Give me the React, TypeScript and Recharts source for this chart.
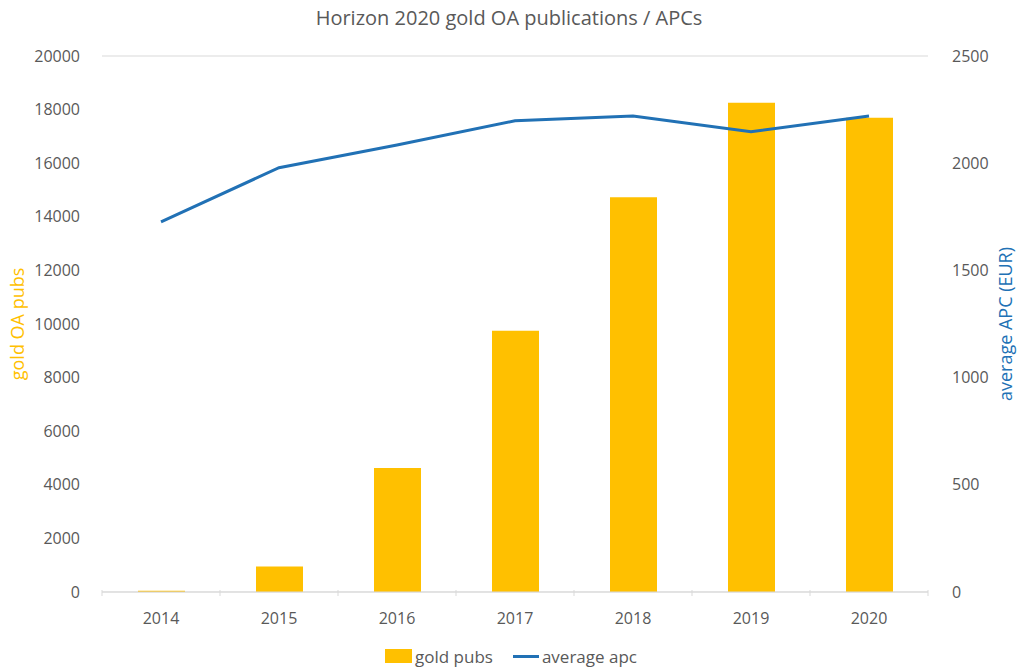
import React from "react";
import {
  ComposedChart,
  Bar,
  Line,
  XAxis,
  YAxis,
  CartesianGrid,
  Legend,
} from "recharts";

const years = ["2014", "2015", "2016", "2017", "2018", "2019", "2020"];
const goldPubs = [50, 950, 4630, 9750, 14730, 18260, 17700];
const averageApc = [1726, 1979, 2085, 2198, 2220, 2147, 2220];
const leftTicks = [0, 2000, 4000, 6000, 8000, 10000, 12000, 14000, 16000, 18000, 20000];
const rightTicks = [0, 500, 1000, 1500, 2000, 2500];

const data = years.map((year, i) => ({
  year,
  gold: goldPubs[i],
  apc: averageApc[i],
}));

const FONT = "'Open Sans', sans-serif";
const GREY = "#595959";
const GOLD = "#FFC000";
const BLUE = "#2171B5";

const PLOT_LEFT = 102;
const PLOT_RIGHT = 928;
const BAND = (PLOT_RIGHT - PLOT_LEFT) / years.length;

function YearTick(props: any) {
  const { x, y, payload, index } = props;
  const isLast = index === years.length - 1;
  return (
    <g>
      <line x1={x - BAND / 2} x2={x - BAND / 2} y1={y - 10} y2={y - 4} stroke="#d9d9d9" />
      {isLast && (
        <line x1={x + BAND / 2} x2={x + BAND / 2} y1={y - 10} y2={y - 4} stroke="#d9d9d9" />
      )}
      <text x={x} y={y + 24} textAnchor="middle" fill={GREY} fontSize={16} fontFamily={FONT}>
        {payload.value}
      </text>
    </g>
  );
}

function ChartLegend() {
  return (
    <div
      style={{
        display: "flex",
        justifyContent: "center",
        alignItems: "center",
        fontFamily: FONT,
        fontSize: 17,
        color: GREY,
        height: 22,
        paddingLeft: 4,
      }}
    >
      <span style={{ display: "inline-block", width: 27, height: 14, background: GOLD, marginRight: 3 }} />
      <span style={{ marginRight: 20 }}>gold pubs</span>
      <span style={{ display: "inline-block", width: 26, height: 3, background: BLUE, marginRight: 3 }} />
      <span>average apc</span>
    </div>
  );
}

export default function App() {
  return (
    <div style={{ position: "absolute", left: 0, top: 0, width: 1018, height: 671, background: "#fff" }}>
      <div
        style={{
          position: "absolute",
          top: 4,
          width: 1018,
          textAlign: "center",
          fontFamily: FONT,
          fontSize: 20,
          color: GREY,
        }}
      >
        Horizon 2020 gold OA publications / APCs
      </div>
      <ComposedChart
        width={1018}
        height={671}
        data={data}
        margin={{ top: 56, right: 0, left: 0, bottom: 4 }}
      >
        <CartesianGrid vertical={false} stroke="#d9d9d9" />
        <XAxis
          dataKey="year"
          axisLine={{ stroke: "#d9d9d9" }}
          tickLine={false}
          tick={<YearTick />}
          height={53}
          interval={0}
        />
        <YAxis
          yAxisId="left"
          domain={[0, 20000]}
          ticks={leftTicks}
          width={PLOT_LEFT}
          axisLine={false}
          tickLine={false}
          tickMargin={16}
          tick={{ fill: GREY, fontSize: 16, fontFamily: FONT }}
          label={{
            value: "gold OA pubs",
            angle: -90,
            position: "insideLeft",
            offset: 18,
            style: { fill: GOLD, fontSize: 18, fontFamily: FONT, textAnchor: "middle" },
          }}
        />
        <YAxis
          yAxisId="right"
          orientation="right"
          domain={[0, 2500]}
          ticks={rightTicks}
          width={1018 - PLOT_RIGHT}
          axisLine={false}
          tickLine={false}
          tickMargin={18}
          tick={{ fill: GREY, fontSize: 16, fontFamily: FONT, textAnchor: "start" }}
          label={{
            value: "average APC (EUR)",
            angle: -90,
            position: "insideRight",
            offset: 12,
            style: { fill: BLUE, fontSize: 18, fontFamily: FONT, textAnchor: "middle" },
          }}
        />
        <Legend verticalAlign="bottom" height={22} content={<ChartLegend />} />
        <Bar yAxisId="left" dataKey="gold" name="gold pubs" fill={GOLD} barSize={47} isAnimationActive={false} />
        <Line
          yAxisId="right"
          dataKey="apc"
          name="average apc"
          stroke={BLUE}
          strokeWidth={3}
          dot={false}
          type="linear"
          isAnimationActive={false}
        />
      </ComposedChart>
    </div>
  );
}
